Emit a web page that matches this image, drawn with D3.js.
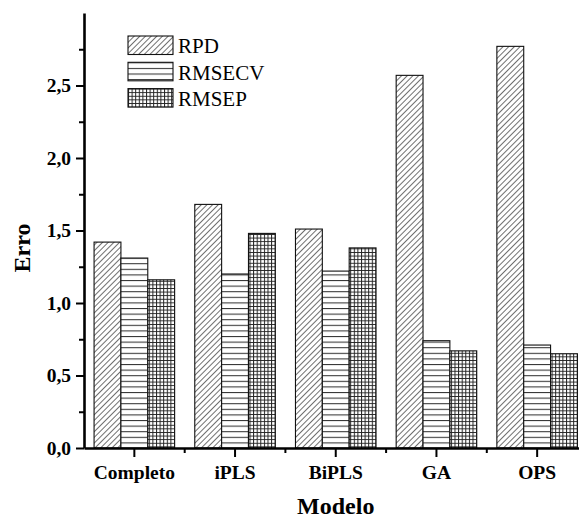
<!DOCTYPE html>
<html>
<head>
<meta charset="utf-8">
<script src="https://cdn.jsdelivr.net/npm/d3@7"></script>
<style>
  html, body { margin: 0; padding: 0; background: #fff; }
  svg { display: block; }
  text { font-family: "Liberation Serif", "Times New Roman", serif; fill: #000; }
</style>
</head>
<body>
<svg id="chart" width="579" height="519"></svg>
<script>
// Models compared and their error metrics
const modelos = ["Completo", "iPLS", "BiPLS", "GA", "OPS"];
const series = ["RPD", "RMSECV", "RMSEP"];
const rpd    = [1.42, 1.68, 1.51, 2.57, 2.77];
const rmsecv = [1.31, 1.20, 1.22, 0.74, 0.71];
const rmsep  = [1.16, 1.48, 1.38, 0.67, 0.65];
const yTicks = [0, 0.5, 1.0, 1.5, 2.0, 2.5];
const yMinorTicks = [0.25, 0.75, 1.25, 1.75, 2.25, 2.75];

const valuesBySeries = { RPD: rpd, RMSECV: rmsecv, RMSEP: rmsep };
const rows = modelos.map((m, i) => ({ modelo: m, values: series.map(s => ({ key: s, value: valuesBySeries[s][i] })) }));

const svg = d3.select("#chart");
const plotLeft = 84, plotRight = 587.5, plotTop = 13, plotBottom = 448;

// Hatch patterns
const defs = svg.append("defs");
const pRPD = defs.append("pattern").attr("id", "pat-RPD").attr("patternUnits", "userSpaceOnUse")
  .attr("width", 4).attr("height", 4).attr("patternTransform", "rotate(45)");
pRPD.append("rect").attr("width", 4).attr("height", 4).attr("fill", "#fff");
pRPD.append("line").attr("x1", 0).attr("y1", 0).attr("x2", 0).attr("y2", 4)
  .attr("stroke", "#222").attr("stroke-width", 1.3);

const pCV = defs.append("pattern").attr("id", "pat-RMSECV").attr("patternUnits", "userSpaceOnUse")
  .attr("width", 10).attr("height", 5.6);
pCV.append("rect").attr("width", 10).attr("height", 5.6).attr("fill", "#fff");
pCV.append("line").attr("x1", 0).attr("y1", 0.5).attr("x2", 10).attr("y2", 0.5)
  .attr("stroke", "#333").attr("stroke-width", 1.1);

const pEP = defs.append("pattern").attr("id", "pat-RMSEP").attr("patternUnits", "userSpaceOnUse")
  .attr("width", 3.6).attr("height", 3.6);
pEP.append("rect").attr("width", 3.6).attr("height", 3.6).attr("fill", "#fff");
pEP.append("path").attr("d", "M0,0.5H3.6M0.5,0V3.6").attr("stroke", "#222").attr("stroke-width", 1);

// Scales
const x = d3.scaleBand().domain(modelos).range([plotLeft, plotRight]).paddingInner(0).paddingOuter(0);
const bw = x.bandwidth();
const xs = d3.scaleBand().domain(series).range([bw * 0.1, bw * 0.9]).padding(0);
const y = d3.scaleLinear().domain([0, 3.0]).range([plotBottom, plotTop]);

// Bars
const groups = svg.append("g").selectAll("g").data(rows).join("g")
  .attr("transform", d => `translate(${x(d.modelo)},0)`);
groups.selectAll("rect").data(d => d.values).join("rect")
  .attr("x", d => xs(d.key))
  .attr("y", d => y(d.value))
  .attr("width", xs.bandwidth())
  .attr("height", d => y(0) - y(d.value))
  .attr("fill", d => `url(#pat-${d.key})`)
  .attr("stroke", "#111")
  .attr("stroke-width", 1.1);

const fmt = d => d3.format(".1f")(d).replace(".", ",");

// Y axis
svg.append("g").attr("transform", `translate(${plotLeft},0)`)
  .call(d3.axisLeft(y).tickValues(yTicks).tickFormat(fmt).tickSize(8).tickSizeOuter(0).tickPadding(5));
svg.append("g").attr("transform", `translate(${plotLeft},0)`)
  .call(d3.axisLeft(y).tickValues(yMinorTicks).tickFormat("").tickSize(5).tickSizeOuter(0))
  .select(".domain").remove();

// X axis
svg.append("g").attr("transform", `translate(0,${plotBottom})`)
  .call(d3.axisBottom(x).tickSize(9).tickSizeOuter(0).tickPadding(8));
const xMinor = modelos.map(m => x(m) + bw);
svg.append("g").attr("transform", `translate(0,${plotBottom})`).selectAll("line").data(xMinor).join("line")
  .attr("x1", d => d).attr("x2", d => d).attr("y1", 0).attr("y2", 5)
  .attr("stroke", "#000").attr("stroke-width", 2);

svg.selectAll(".domain").attr("stroke", "#000").attr("stroke-width", 2.6);
svg.selectAll(".tick line").attr("stroke", "#000").attr("stroke-width", 2);
svg.selectAll(".tick text").attr("font-size", 19.5).attr("font-weight", "bold")
  .attr("font-family", "'Liberation Serif', serif");

// Axis titles
svg.append("text").attr("x", (plotLeft + plotRight) / 2).attr("y", 514)
  .attr("text-anchor", "middle").attr("font-size", 24).attr("font-weight", "bold").text("Modelo");
svg.append("text").attr("transform", `translate(29.5,248) rotate(-90)`)
  .attr("text-anchor", "middle").attr("font-size", 24).attr("font-weight", "bold").text("Erro");

// Legend
const legend = svg.append("g").attr("transform", "translate(128,36)");
const li = legend.selectAll("g").data(series).join("g")
  .attr("transform", (d, i) => `translate(0,${i * 26.3})`);
li.append("rect").attr("width", 45).attr("height", 18.5)
  .attr("fill", d => `url(#pat-${d})`).attr("stroke", "#111").attr("stroke-width", 1.1);
li.append("text").attr("x", 50).attr("y", 17.3).attr("font-size", 21).text(d => d);
</script>
</body>
</html>
